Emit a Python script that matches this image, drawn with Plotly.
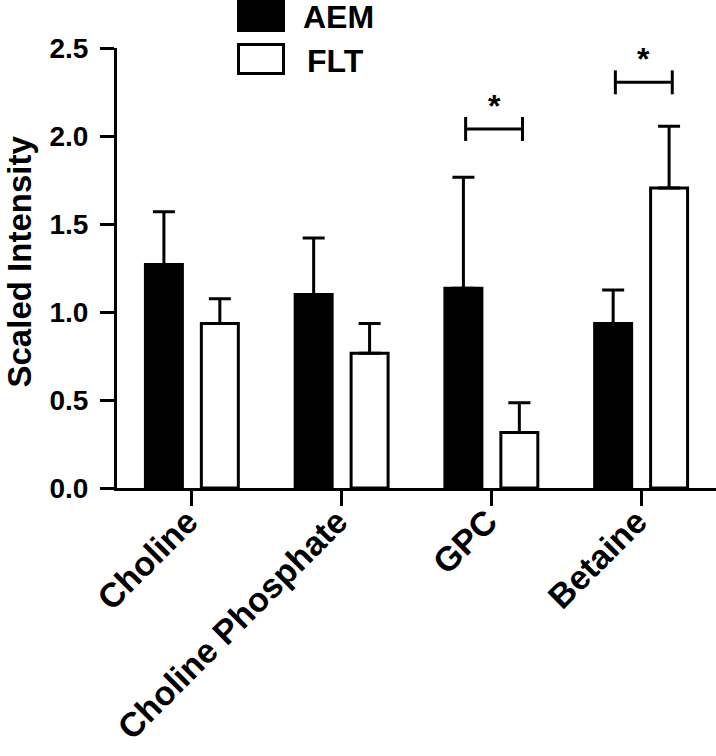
import plotly.graph_objects as go

categories = ["Choline", "Choline Phosphate", "GPC", "Betaine"]
aem_mean = [1.27, 1.10, 1.135, 0.935]
aem_err = [0.30, 0.32, 0.63, 0.19]
flt_mean = [0.935, 0.765, 0.315, 1.705]
flt_err = [0.14, 0.17, 0.17, 0.35]
y_ticks = [0.0, 0.5, 1.0, 1.5, 2.0, 2.5]
y_tick_labels = ["0.0", "0.5", "1.0", "1.5", "2.0", "2.5"]
# significance brackets: (category index, bracket height)
sig_index = [2, 3]
sig_height = [2.04, 2.305]

FONT = "Liberation Sans, Arial, Helvetica, sans-serif"
W, H = 716, 756
ML, MR, MT, MB = 117, 0, 48, 268
PW = W - ML - MR
PH = H - MT - MB


def px_x(px):
    return (px - ML) / PW


def px_y(py):
    return (H - MB - py) / PH


fig = go.Figure()
fig.add_trace(go.Bar(
    name="AEM", x=categories, y=aem_mean,
    marker=dict(color="black", line=dict(color="black", width=3)),
    error_y=dict(type="data", array=aem_err, arrayminus=[0] * len(aem_err),
                 symmetric=False, color="black", thickness=3, width=11),
    showlegend=False,
))
fig.add_trace(go.Bar(
    name="FLT", x=categories, y=flt_mean,
    marker=dict(color="white", line=dict(color="black", width=3)),
    error_y=dict(type="data", array=flt_err, arrayminus=[0] * len(flt_err),
                 symmetric=False, color="black", thickness=3, width=11),
    showlegend=False,
))

shapes = []
annotations = []
half = 0.19
tick_h = 0.068
nudge = 0.018
for i, h in zip(sig_index, sig_height):
    c = i + nudge
    shapes.append(dict(type="line", xref="x", yref="y", x0=c - half, x1=c + half, y0=h, y1=h,
                       line=dict(color="black", width=3)))
    for xe in (c - half, c + half):
        shapes.append(dict(type="line", xref="x", yref="y", x0=xe, x1=xe, y0=h - tick_h, y1=h + tick_h,
                           line=dict(color="black", width=3)))
    annotations.append(dict(x=c, y=h, xref="x", yref="y", text="*", showarrow=False,
                            xanchor="center", yanchor="bottom", yshift=3,
                            font=dict(family=FONT, size=32, color="black", weight="bold")))

# legend (drawn manually to match large swatches)
shapes.append(dict(type="rect", xref="paper", yref="paper",
                   x0=px_x(237), x1=px_x(285), y0=px_y(32), y1=px_y(0),
                   fillcolor="black", line=dict(width=0)))
shapes.append(dict(type="rect", xref="paper", yref="paper",
                   x0=px_x(238.5), x1=px_x(283.5), y0=px_y(73.5), y1=px_y(44.5),
                   fillcolor="white", line=dict(color="black", width=3)))
for label, lx, cy in (("AEM", 301, 16.5), ("FLT", 305, 61)):
    annotations.append(dict(x=px_x(lx), y=px_y(cy), xref="paper", yref="paper", text=label,
                            showarrow=False, xanchor="left", yanchor="middle",
                            font=dict(family=FONT, size=32, color="black", weight="bold")))

annotations.append(dict(x=px_x(19), y=px_y(261.5), xref="paper", yref="paper",
                        text="Scaled Intensity", textangle=-90, showarrow=False,
                        xanchor="center", yanchor="middle",
                        font=dict(family=FONT, size=33, color="black", weight="bold")))

fig.update_layout(
    width=W, height=H,
    margin=dict(l=ML, r=MR, t=MT, b=MB, autoexpand=False),
    paper_bgcolor="white", plot_bgcolor="white",
    barmode="group", bargap=0.253, bargroupgap=0.339,
    shapes=shapes, annotations=annotations,
    xaxis=dict(type="category", categoryorder="array", categoryarray=categories,
               range=[-0.5, 3.5], showline=True, linecolor="black", linewidth=3,
               ticks="outside", ticklen=15, tickwidth=3, tickcolor="black",
               tickangle=-45, showgrid=False, zeroline=False, automargin=False,
               ticklabelstandoff=-18, ticklabelshift=-4,
               tickfont=dict(family=FONT, size=34, color="black", weight="bold")),
    yaxis=dict(range=[0, 2.5], tickvals=y_ticks, ticktext=y_tick_labels,
               showline=True, linecolor="black", linewidth=3,
               ticks="outside", ticklen=14, tickwidth=3, tickcolor="black",
               showgrid=False, zeroline=False, automargin=False, ticklabelstandoff=6,
               tickfont=dict(family=FONT, size=28, color="black", weight="bold")),
)

fig.write_html("out.html", post_script="document.body.style.margin='0px';",
               config={"displayModeBar": False})
